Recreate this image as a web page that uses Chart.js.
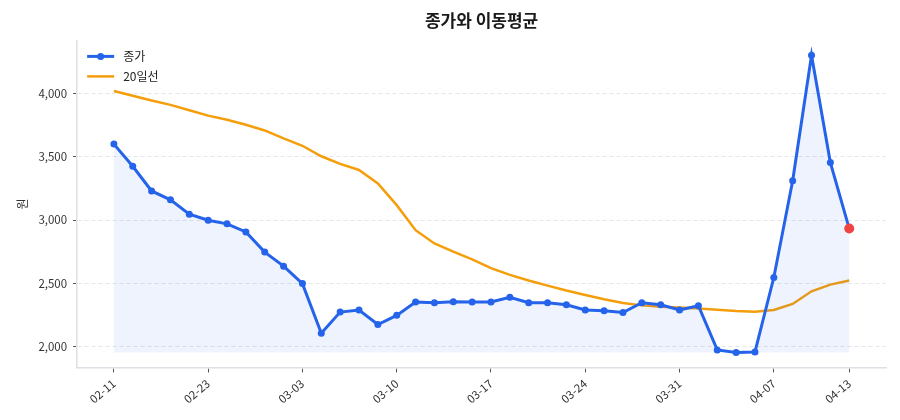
<!DOCTYPE html>
<html>
<head>
<meta charset="utf-8">
<script src="https://cdn.jsdelivr.net/npm/chart.js@4"></script>
<style>
  body { margin: 0; background: #fff; }
  #wrap { width: 900px; height: 420px; }
</style>
</head>
<body>
<div id="wrap"><canvas id="priceChart"></canvas></div>
<script>
// 날짜 (거래일)
const dates = ['02-11','02-12','02-13','02-16','02-19','02-23','02-24','02-25','02-26','02-27',
               '03-03','03-04','03-05','03-06','03-07','03-10','03-11','03-12','03-13','03-14',
               '03-17','03-18','03-19','03-20','03-21','03-24','03-25','03-26','03-27','03-28',
               '03-31','04-01','04-02','04-03','04-04','04-07','04-08','04-09','04-10','04-13'];

// 종가
const close = [3600, 3425, 3230, 3160, 3046, 2999, 2970, 2906, 2747, 2636,
               2498, 2106, 2273, 2289, 2175, 2247, 2353, 2347, 2355, 2353,
               2353, 2390, 2347, 2347, 2331, 2289, 2284, 2270, 2347, 2331,
               2289, 2323, 1974, 1953, 1958, 2546, 3311, 4302, 3454, 2933];

// 20일 이동평균
const ma20 = [4020, 3982, 3944, 3910, 3868, 3825, 3793, 3753, 3708, 3645,
              3587, 3504, 3444, 3396, 3290, 3118, 2920, 2815, 2750, 2690,
              2620, 2567, 2522, 2482, 2443, 2408, 2374, 2345, 2326, 2315,
              2310, 2302, 2292, 2281, 2276, 2289, 2337, 2437, 2490, 2522];

// x축에 표시할 인덱스
const tickIdx = [0, 5, 10, 15, 20, 25, 30, 35, 39];
const yStep = 500;

const fontFam = "'Noto Sans CJK KR', 'Noto Sans', sans-serif";
const blue = '#2563eb';
const orange = '#f59e0b';
const last = close.length - 1;

const allVals = close.concat(ma20);
const lo = Math.min(...allVals), hi = Math.max(...allVals);
const pad = (hi - lo) * 0.05;

// 범례를 차트 안쪽 좌상단에 그림
const innerLegend = {
    id: 'innerLegend',
    afterDraw(chart) {
        const ctx = chart.ctx;
        const x0 = chart.chartArea.left + 10;
        const y0 = chart.chartArea.top + 16;
        const items = [
            { text: '종가', color: blue, dot: true },
            { text: '20일선', color: orange, dot: false }
        ];
        ctx.save();
        items.forEach((it, i) => {
            const y = y0 + i * 20;
            ctx.strokeStyle = it.color;
            ctx.lineWidth = it.dot ? 3 : 2.5;
            ctx.beginPath();
            ctx.moveTo(x0, y);
            ctx.lineTo(x0 + 27, y);
            ctx.stroke();
            if (it.dot) {
                ctx.fillStyle = it.color;
                ctx.beginPath();
                ctx.arc(x0 + 13.5, y, 3.5, 0, Math.PI * 2);
                ctx.fill();
            }
            ctx.fillStyle = '#222';
            ctx.font = '12px ' + fontFam;
            ctx.textBaseline = 'middle';
            ctx.fillText(it.text, x0 + 36, y);
        });
        ctx.restore();
    }
};

const ctx = document.getElementById('priceChart').getContext('2d');
new Chart(ctx, {
    type: 'line',
    data: {
        datasets: [{
            label: '종가',
            data: close.map((v, i) => ({ x: i, y: v })),
            borderColor: blue,
            borderWidth: 3,
            backgroundColor: 'rgba(37, 99, 235, 0.08)',
            fill: { value: Math.min(...close) },
            pointRadius: close.map((v, i) => i === last ? 5 : 3.5),
            pointBackgroundColor: close.map((v, i) => i === last ? '#ef4444' : blue),
            pointBorderColor: close.map((v, i) => i === last ? '#ef4444' : blue),
            pointBorderWidth: 0,
            tension: 0,
            order: 1
        }, {
            label: '20일선',
            data: ma20.map((v, i) => ({ x: i, y: v })),
            borderColor: orange,
            borderWidth: 2.5,
            pointRadius: 0,
            fill: false,
            tension: 0,
            order: 2
        }]
    },
    options: {
        responsive: true,
        maintainAspectRatio: false,
        animation: false,
        layout: { padding: { left: 15, right: 14, top: 4, bottom: 10 } },
        plugins: {
            legend: { display: false },
            tooltip: { enabled: false },
            title: {
                display: true,
                text: '종가와 이동평균',
                fullSize: false,
                color: '#1a1a1a',
                font: { family: fontFam, size: 17, weight: 'bold' },
                padding: { top: 6, bottom: 10 }
            }
        },
        scales: {
            x: {
                type: 'linear',
                min: -(close.length - 1) * 0.05,
                max: (close.length - 1) * 1.05,
                afterBuildTicks: axis => {
                    axis.ticks = tickIdx.map(v => ({ value: v }));
                },
                ticks: {
                    autoSkip: false,
                    maxRotation: 40,
                    minRotation: 40,
                    padding: 4,
                    color: '#333',
                    font: { family: fontFam, size: 11.5 },
                    callback: v => dates[v]
                },
                grid: {
                    drawOnChartArea: false,
                    drawTicks: true,
                    tickLength: 5,
                    color: '#555'
                },
                border: { display: true, color: '#dcdfe4', width: 1.5 }
            },
            y: {
                min: lo - pad,
                max: hi + pad,
                afterBuildTicks: axis => {
                    const t = [];
                    for (let v = Math.ceil(axis.min / yStep) * yStep; v <= axis.max; v += yStep) {
                        t.push({ value: v });
                    }
                    axis.ticks = t;
                },
                ticks: {
                    padding: 6,
                    color: '#333',
                    font: { family: fontFam, size: 11.5 },
                    callback: v => v.toLocaleString('en-US')
                },
                grid: {
                    color: '#e3e6eb',
                    drawTicks: true,
                    tickLength: 4,
                    tickColor: '#555',
                    lineWidth: 1
                },
                border: { display: true, color: '#dcdfe4', width: 1.5, dash: [4, 3] },
                title: {
                    display: true,
                    text: '원',
                    color: '#333',
                    font: { family: fontFam, size: 12 },
                    padding: { top: 0, bottom: 3 }
                }
            }
        }
    },
    plugins: [innerLegend]
});
</script>
</body>
</html>
